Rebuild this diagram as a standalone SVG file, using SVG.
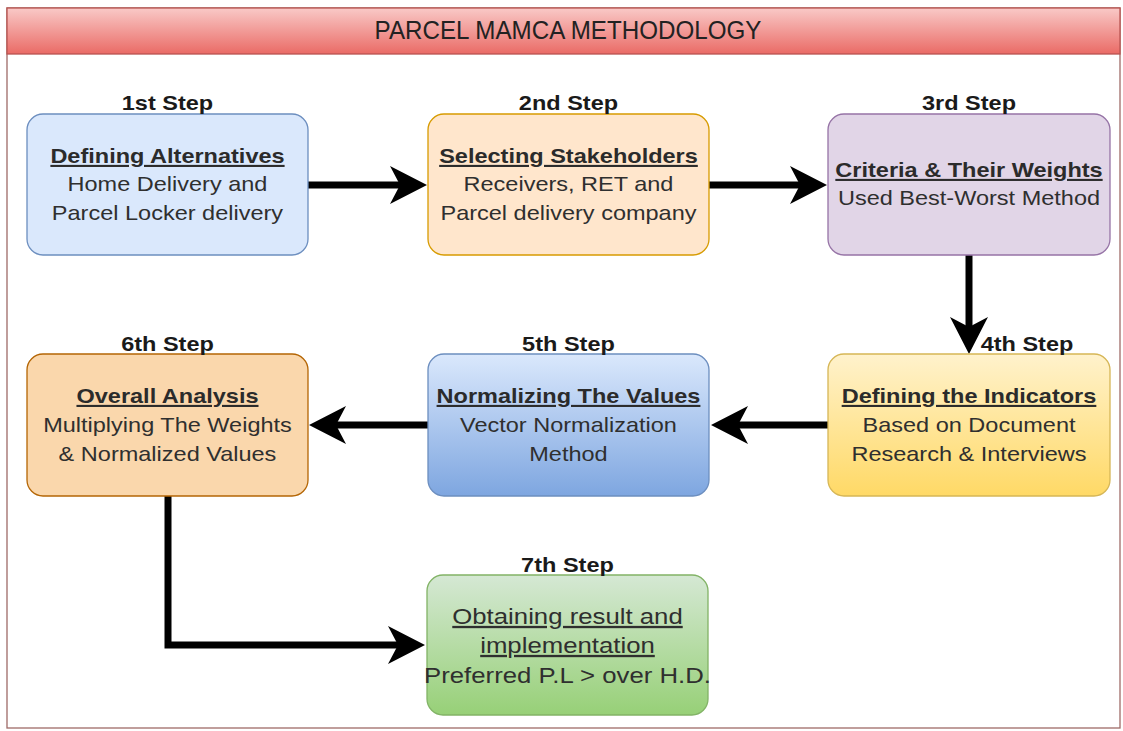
<svg xmlns="http://www.w3.org/2000/svg" width="1123" height="731" viewBox="0 0 1123 731">
<defs>
<linearGradient id="gTitle" x1="0" y1="0" x2="0" y2="1"><stop offset="0" stop-color="#f9c9c7"/><stop offset="1" stop-color="#ea6b66"/></linearGradient>
<linearGradient id="gBlue" x1="0" y1="0" x2="0" y2="1"><stop offset="0" stop-color="#dae8fc"/><stop offset="1" stop-color="#7ea6e0"/></linearGradient>
<linearGradient id="gYellow" x1="0" y1="0" x2="0" y2="1"><stop offset="0" stop-color="#fff2cc"/><stop offset="1" stop-color="#ffd966"/></linearGradient>
<linearGradient id="gGreen" x1="0" y1="0" x2="0" y2="1"><stop offset="0" stop-color="#d5e8d4"/><stop offset="1" stop-color="#97d077"/></linearGradient>
<marker id="arr" markerUnits="userSpaceOnUse" markerWidth="40" markerHeight="40" viewBox="0 -20 38 40" refX="10" refY="0" orient="auto">
<path d="M0,-19 L37,0 L0,19 L10,0 Z" fill="#000"/>
</marker>
<style>
text{font-family:"Liberation Sans",Arial,sans-serif;text-anchor:middle}
.step{font-size:21px;font-weight:bold;fill:#1a1a1a}
.ttl{font-size:21px;font-weight:bold;fill:#2b2b2b;text-decoration:underline}
.body{font-size:21px;fill:#2f2f2f}
.big{font-size:23px;fill:#2f2f2f}
.ul{text-decoration:underline}
.box{stroke-width:1.3}
.conn{fill:none;stroke:#000;stroke-width:7;marker-end:url(#arr)}
</style>
</defs>
<rect width="1123" height="731" fill="#fff"/>
<g id="container">
<rect x="7" y="8" width="1113" height="720" fill="#fff" stroke="#9e6a67" stroke-width="1.3"/>
<rect x="7" y="8" width="1113" height="46" fill="url(#gTitle)" stroke="#b85450" stroke-width="1.3"/>
<text x="568" y="39" font-size="26" fill="#222" transform="matrix(0.93 0 0 1 39.76 0)">PARCEL MAMCA METHODOLOGY</text>
</g>
<g id="connectors">
<path class="conn" d="M308,185 L400,185"/>
<path class="conn" d="M709,185 L800,185"/>
<path class="conn" d="M969,255 L969,327"/>
<path class="conn" d="M828,425 L738,425"/>
<path class="conn" d="M428,425 L336,425"/>
<path class="conn" d="M168,496 L168,645 L398,645"/>
</g>
<g id="step1">
<rect class="box" x="27" y="114" width="281" height="141" rx="16" fill="#dae8fc" stroke="#6c8ebf"/>
<g transform="matrix(1.12 0 0 1 -20.1 0)">
<text class="step" x="167.5" y="110">1st Step</text>
<text class="ttl" x="167.5" y="163">Defining Alternatives</text>
<text class="body" x="167.5" y="191.5">Home Delivery and</text>
<text class="body" x="167.5" y="220">Parcel Locker delivery</text>
</g>
</g>
<g id="step2">
<rect class="box" x="428" y="114" width="281" height="141" rx="16" fill="#ffe6cc" stroke="#d79b00"/>
<g transform="matrix(1.12 0 0 1 -68.22 0)">
<text class="step" x="568.5" y="110">2nd Step</text>
<text class="ttl" x="568.5" y="163">Selecting Stakeholders</text>
<text class="body" x="568.5" y="191.5">Receivers, RET and</text>
<text class="body" x="568.5" y="220">Parcel delivery company</text>
</g>
</g>
<g id="step3">
<rect class="box" x="828" y="114" width="282" height="141" rx="16" fill="#e1d5e7" stroke="#9673a6"/>
<g transform="matrix(1.12 0 0 1 -116.28 0)">
<text class="step" x="969" y="110">3rd Step</text>
<text class="ttl" x="969" y="177">Criteria &amp; Their Weights</text>
<text class="body" x="969" y="205.5">Used Best-Worst Method</text>
</g>
</g>
<g id="step4">
<rect class="box" x="828" y="354" width="282" height="142" rx="16" fill="url(#gYellow)" stroke="#d6b656"/>
<g transform="matrix(1.12 0 0 1 -116.28 0)">
<text class="ttl" x="969" y="403">Defining the Indicators</text>
<text class="body" x="969" y="432">Based on Document</text>
<text class="body" x="969" y="461">Research &amp; Interviews</text>
</g>
<text class="step" x="1027" y="351" transform="matrix(1.12 0 0 1 -123.24 0)">4th Step</text>
</g>
<g id="step5">
<rect class="box" x="428" y="354" width="281" height="142" rx="16" fill="url(#gBlue)" stroke="#6c8ebf"/>
<g transform="matrix(1.12 0 0 1 -68.22 0)">
<text class="step" x="568.5" y="351">5th Step</text>
<text class="ttl" x="568.5" y="403">Normalizing The Values</text>
<text class="body" x="568.5" y="432">Vector Normalization</text>
<text class="body" x="568.5" y="461">Method</text>
</g>
</g>
<g id="step6">
<rect class="box" x="27" y="354" width="281" height="142" rx="16" fill="#fad7ac" stroke="#b46504"/>
<g transform="matrix(1.12 0 0 1 -20.1 0)">
<text class="step" x="167.5" y="351">6th Step</text>
<text class="ttl" x="167.5" y="403">Overall Analysis</text>
<text class="body" x="167.5" y="432">Multiplying The Weights</text>
<text class="body" x="167.5" y="461">&amp; Normalized Values</text>
</g>
</g>
<g id="step7">
<rect class="box" x="427" y="575" width="281" height="140" rx="16" fill="url(#gGreen)" stroke="#82b366"/>
<g transform="matrix(1.12 0 0 1 -68.1 0)">
<text class="step" x="567.5" y="572">7th Step</text>
<text class="big ul" x="567.5" y="624">Obtaining result and</text>
<text class="big ul" x="567.5" y="653">implementation</text>
<text class="big" x="567.5" y="683">Preferred P.L &gt; over H.D.</text>
</g>
</g>
</svg>
